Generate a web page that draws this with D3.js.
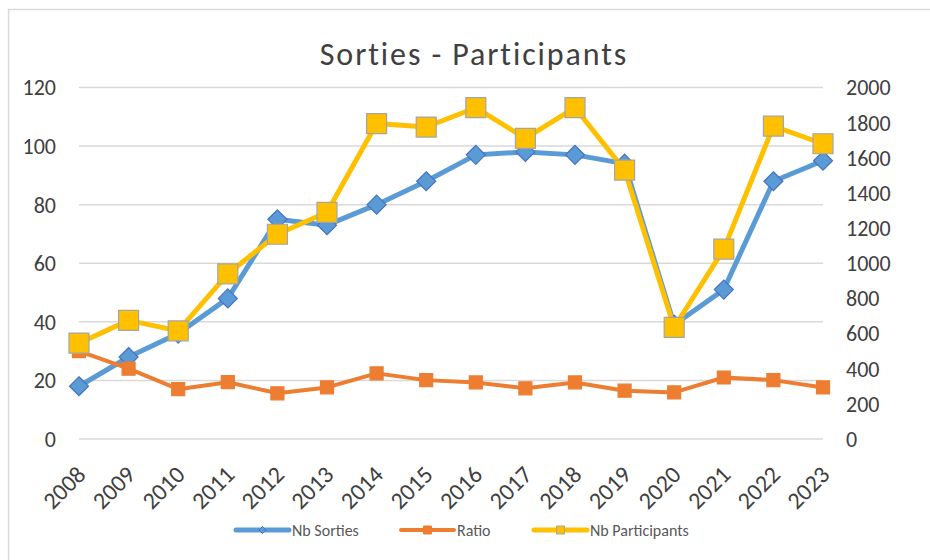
<!DOCTYPE html>
<html>
<head>
<meta charset="utf-8">
<script src="https://cdn.jsdelivr.net/npm/d3@7"></script>
<style>
  body { margin: 0; background: #fff; }
  text { font-family: Carlito, Calibri, Lato, sans-serif; }
</style>
</head>
<body>
<svg id="chart" width="930" height="560"></svg>
<script>
const years = [2008, 2009, 2010, 2011, 2012, 2013, 2014, 2015, 2016, 2017, 2018, 2019, 2020, 2021, 2022, 2023];
const nb_sorties = [18, 28, 36, 48, 75, 73, 80, 88, 97, 98, 97, 94, 39, 51, 88, 95];
const ratio = [30, 24, 17, 19.4, 15.6, 17.6, 22.4, 20.1, 19.3, 17.3, 19.3, 16.5, 15.9, 21, 20.1, 17.6];
const nb_participants = [545, 675, 615, 940, 1165, 1290, 1795, 1775, 1885, 1710, 1885, 1530, 635, 1080, 1780, 1680];
const left_ticks = [0, 20, 40, 60, 80, 100, 120];
const right_ticks = [0, 200, 400, 600, 800, 1000, 1200, 1400, 1600, 1800, 2000];

const svg = d3.select("svg#chart");
const margin = { left: 79, right: 107, top: 87.5, bottom: 121 };
const width = 930 - margin.left - margin.right;
const height = 560 - margin.top - margin.bottom;
const text_color = '#404040';

// chart frame (only left and top edges are visible in the picture)
svg.append("rect")
  .attr("x", 8.5).attr("y", 9.5)
  .attr("width", 940).attr("height", 600)
  .attr("fill", "none")
  .attr("stroke", "#d9d9d9")
  .attr("stroke-width", 1.5);

svg.append("text")
  .attr("x", 474)
  .attr("y", 65)
  .attr("text-anchor", "middle")
  .attr("font-size", 32)
  .attr("letter-spacing", 1.9)
  .attr("fill", text_color)
  .text("Sorties - Participants");

const g = svg.append("g")
  .attr("transform", `translate(${margin.left}, ${margin.top})`);

const x = d3.scalePoint(years, [0, width]);
const y_left = d3.scaleLinear([0, 120], [height, 0]);
const y_right = d3.scaleLinear([0, 2000], [height, 0]);

// gridlines
g.selectAll("line.grid")
  .data(left_ticks)
  .join("line")
  .attr("class", "grid")
  .attr("x1", 0)
  .attr("x2", width)
  .attr("y1", d => y_left(d))
  .attr("y2", d => y_left(d))
  .attr("stroke", "#d9d9d9")
  .attr("stroke-width", 1.5);

// left axis labels
g.selectAll("text.left_tick")
  .data(left_ticks)
  .join("text")
  .attr("class", "left_tick")
  .attr("x", -23)
  .attr("y", d => y_left(d))
  .attr("dy", "0.36em")
  .attr("text-anchor", "end")
  .attr("font-size", 22)
  .attr("fill", text_color)
  .text(d => d);

// right axis labels
g.selectAll("text.right_tick")
  .data(right_ticks)
  .join("text")
  .attr("class", "right_tick")
  .attr("x", width + 23)
  .attr("y", d => y_right(d))
  .attr("dy", "0.36em")
  .attr("text-anchor", "start")
  .attr("font-size", 22)
  .attr("fill", text_color)
  .text(d => d);

// x labels, rotated
g.selectAll("text.year")
  .data(years)
  .join("text")
  .attr("class", "year")
  .attr("transform", d => `translate(${x(d) + 2}, ${height + 31}) rotate(-45)`)
  .attr("text-anchor", "end")
  .attr("dy", "0.36em")
  .attr("font-size", 24)
  .attr("fill", text_color)
  .text(d => d);

const series = [
  { name: "Nb Sorties", values: nb_sorties, scale: y_left, color: "#5b9bd5", width: 5, marker: "diamond", size: 19, fill: "#5b9bd5", stroke: "#4472c4" },
  { name: "Ratio", values: ratio, scale: y_left, color: "#ed7d31", width: 4, marker: "square", size: 13, fill: "#ed7d31", stroke: "#ed7d31" },
  { name: "Nb Participants", values: nb_participants, scale: y_right, color: "#ffc000", width: 5, marker: "square", size: 20, fill: "#ffc000", stroke: "#a5a5a5" }
];

function marker_path(type, s) {
  const h = s / 2;
  if (type === "diamond") return `M0,${-h}L${h},0L0,${h}L${-h},0Z`;
  return `M${-h},${-h}H${h}V${h}H${-h}Z`;
}

series.forEach(sr => {
  const line = d3.line()
    .x((d, i) => x(years[i]))
    .y(d => sr.scale(d));
  g.append("path")
    .datum(sr.values)
    .attr("d", line)
    .attr("fill", "none")
    .attr("stroke", sr.color)
    .attr("stroke-width", sr.width)
    .attr("stroke-linejoin", "round");
  g.selectAll(`path.marker_${sr.marker}_${sr.size}`)
    .data(sr.values)
    .join("path")
    .attr("class", `marker_${sr.marker}_${sr.size}`)
    .attr("transform", (d, i) => `translate(${x(years[i])}, ${sr.scale(d)})`)
    .attr("d", marker_path(sr.marker, sr.size))
    .attr("fill", sr.fill)
    .attr("stroke", sr.stroke)
    .attr("stroke-width", 1.2);
});

// legend
const legend_x = [236, 401, 534];
const legend = svg.append("g").attr("class", "legend");
series.forEach((sr, i) => {
  const lg = legend.append("g").attr("transform", `translate(${legend_x[i]}, 530)`);
  lg.append("line")
    .attr("x1", 0).attr("x2", 53)
    .attr("y1", 0).attr("y2", 0)
    .attr("stroke", sr.color)
    .attr("stroke-width", sr.width)
    .attr("stroke-linecap", "round");
  lg.append("path")
    .attr("transform", "translate(26.5, 0)")
    .attr("d", marker_path(sr.marker, sr.marker === "diamond" ? 7 : 8))
    .attr("fill", sr.fill)
    .attr("stroke", sr.stroke)
    .attr("stroke-width", 1);
  lg.append("text")
    .attr("x", 56)
    .attr("y", 0)
    .attr("dy", "0.36em")
    .attr("font-size", 16)
    .attr("fill", "#595959")
    .text(sr.name);
});
</script>
</body>
</html>
